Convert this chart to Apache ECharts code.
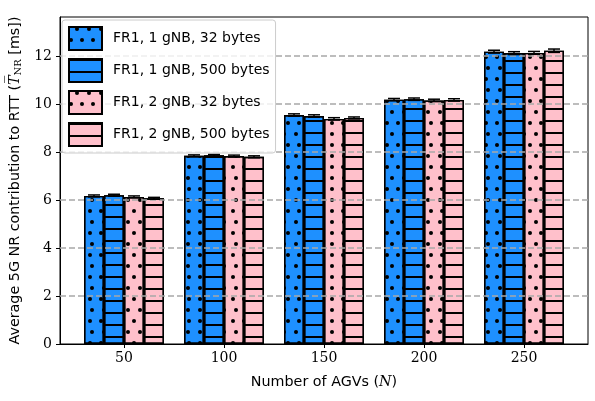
<!DOCTYPE html>
<html>
<head>
<meta charset="utf-8">
<script src="https://cdn.jsdelivr.net/npm/echarts@6/dist/echarts.min.js"></script>
<style>html,body{margin:0;padding:0;background:#fff}#c{width:595px;height:401px}</style>
</head>
<body>
<div id="c"></div>
<script>
// ---- data ----
const agvCounts = [50, 100, 150, 200, 250];
const seriesNames = ['FR1, 1 gNB, 32 bytes', 'FR1, 1 gNB, 500 bytes', 'FR1, 2 gNB, 32 bytes', 'FR1, 2 gNB, 500 bytes'];
const fr1_1gnb_32  = [6.17, 7.84, 9.54, 10.18, 12.18];
const fr1_1gnb_500 = [6.20, 7.86, 9.50, 10.20, 12.12];
const fr1_2gnb_32  = [6.13, 7.83, 9.38, 10.15, 12.13];
const fr1_2gnb_500 = [6.07, 7.80, 9.42, 10.17, 12.22];
const err_1gnb_32  = [0.04, 0.04, 0.05, 0.05, 0.06];
const err_1gnb_500 = [0.04, 0.04, 0.05, 0.05, 0.06];
const err_2gnb_32  = [0.04, 0.04, 0.05, 0.05, 0.06];
const err_2gnb_500 = [0.04, 0.04, 0.04, 0.05, 0.07];
const yTickValues = [0, 2, 4, 6, 8, 10, 12];
const xTickValues = [50, 100, 150, 200, 250];

// ---- layout / style ----
const values = [fr1_1gnb_32, fr1_1gnb_500, fr1_2gnb_32, fr1_2gnb_500];
const errs = [err_1gnb_32, err_1gnb_500, err_2gnb_32, err_2gnb_500];
const BAR_UNITS = 10;
const offsets = [-1.5, -0.5, 0.5, 1.5].map(k => k * BAR_UNITS);
const BLUE = '#1E90FF', PINK = '#FFC0CB';
const colors = [BLUE, BLUE, PINK, PINK];
const dotDecal = {
  symbol: 'circle', symbolSize: 1, color: '#000',
  dashArrayX: [[4, 6.6], [0, 5.3, 4, 1.3]], dashArrayY: [4, 6.6]
};
const lineDecal = {
  symbol: 'rect', symbolSize: 1, color: '#000',
  dashArrayX: [1, 0], dashArrayY: [1.2, 9.4]
};
const decals = [dotDecal, lineDecal, dotDecal, lineDecal];
const SANS = 'DejaVu Sans';
const SERIF = 'DejaVu Serif';

const chart = echarts.init(document.getElementById('c'), null, {renderer: 'canvas'});

const barSeries = values.map((vals, si) => ({
  name: seriesNames[si],
  type: 'bar',
  barWidth: 20,
  barGap: '-100%',
  z: 2,
  itemStyle: { color: colors[si], borderColor: '#000', borderWidth: 1.4, decal: decals[si] },
  data: vals.map((v, i) => [agvCounts[i] + offsets[si], v])
}));

const errData = [];
values.forEach((vals, si) => vals.forEach((v, i) => errData.push([agvCounts[i] + offsets[si], v, errs[si][i]])));

const option = {
  animation: false,
  backgroundColor: '#fff',
  grid: { left: 60, right: 7, top: 17, bottom: 57, show: true, borderColor: '#000', borderWidth: 1 },
  legend: {
    orient: 'vertical', left: 62, top: 20,
    padding: [6, 6, 6, 6],
    itemWidth: 33, itemHeight: 23, itemGap: 7,
    backgroundColor: 'rgba(255,255,255,0.8)', borderColor: '#cccccc', borderWidth: 1, borderRadius: 3,
    icon: 'rect', z: 20,
    textStyle: { fontFamily: SANS, fontSize: 14, color: '#000', padding: [0, 0, 0, 6] },
    data: seriesNames
  },
  xAxis: {
    type: 'value', min: 18, max: 282,
    name: '{a|Number of AGVs (}{b|N}{a|)}',
    nameLocation: 'middle', nameGap: 31,
    nameTextStyle: { rich: {
      a: { fontFamily: SANS, fontSize: 14.3, color: '#000' },
      b: { fontFamily: SERIF, fontStyle: 'italic', fontSize: 14.3, color: '#000' }
    } },
    axisLine: { lineStyle: { color: '#000', width: 1 } },
    axisTick: { show: true, length: 4, lineStyle: { color: '#000' }, customValues: xTickValues },
    axisLabel: { customValues: xTickValues, fontFamily: SERIF, fontSize: 14, color: '#000', margin: 7 },
    splitLine: { show: false }
  },
  yAxis: {
    type: 'value', min: 0, max: 13.625,
    name: '{a|Average 5G NR contribution to RTT (}{b|T\u0305}{c|NR}{a| [ms])}',
    nameLocation: 'middle', nameGap: 37, nameRotate: 90,
    nameTextStyle: { rich: {
      a: { fontFamily: SANS, fontSize: 14.3, color: '#000' },
      b: { fontFamily: SERIF, fontStyle: 'italic', fontSize: 14.3, color: '#000' },
      c: { fontFamily: SERIF, fontSize: 10, color: '#000', verticalAlign: 'bottom', padding: [6, 0, 0, 0] }
    } },
    axisLine: { show: true, lineStyle: { color: '#000', width: 1 } },
    axisTick: { show: true, length: 4, lineStyle: { color: '#000' }, customValues: yTickValues },
    axisLabel: { customValues: yTickValues, fontFamily: SERIF, fontSize: 14, color: '#000', margin: 8 },
    splitLine: { show: false }
  },
  series: barSeries.concat([{
    type: 'custom',
    name: 'errorbars',
    z: 6,
    silent: true,
    data: errData,
    encode: { x: 0, y: [1] },
    renderItem: function (params, api) {
      const x = api.value(0), y = api.value(1), e = api.value(2);
      const lo = api.coord([x, y - e]), hi = api.coord([x, y + e]);
      const hw = 6;
      const st = { stroke: '#000', lineWidth: 1.5 };
      return { type: 'group', children: [
        { type: 'line', shape: { x1: lo[0], y1: lo[1], x2: hi[0], y2: hi[1] }, style: st },
        { type: 'line', shape: { x1: lo[0] - hw, y1: lo[1], x2: lo[0] + hw, y2: lo[1] }, style: st },
        { type: 'line', shape: { x1: hi[0] - hw, y1: hi[1], x2: hi[0] + hw, y2: hi[1] }, style: st }
      ] };
    },
    markLine: {
      silent: true, symbol: 'none', z: 5,
      label: { show: false },
      lineStyle: { color: '#a8a8a8', type: [6, 3], width: 1.5 },
      data: yTickValues.filter(v => v > 0).map(v => ({ yAxis: v }))
    }
  }])
};
chart.setOption(option);
</script>
</body>
</html>
